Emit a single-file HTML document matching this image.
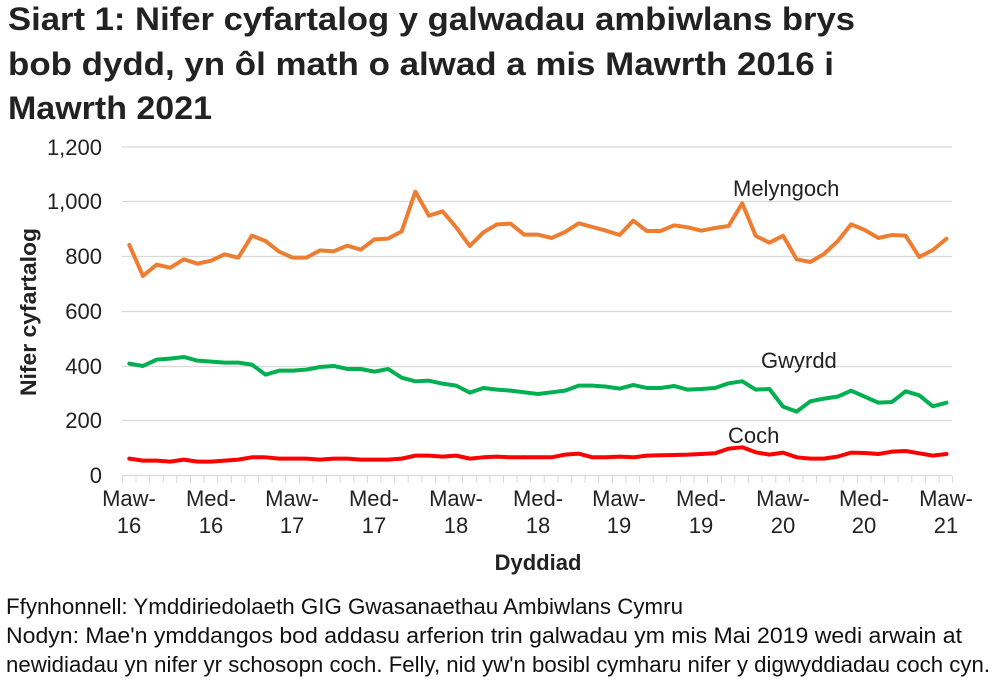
<!DOCTYPE html>
<html><head><meta charset="utf-8"><style>
body{margin:0;background:#fff;width:1002px;height:687px;overflow:hidden;font-family:"Liberation Sans",Arial,sans-serif;}
svg{position:absolute;left:0;top:0}
</style></head><body>
<svg width="1002" height="687" viewBox="0 0 1002 687" font-family="Liberation Sans, Arial, sans-serif">
<g font-size="32" font-weight="bold" fill="#222" lengthAdjust="spacingAndGlyphs">
<text x="8" y="30" textLength="847" lengthAdjust="spacingAndGlyphs">Siart 1: Nifer cyfartalog y galwadau ambiwlans brys</text>
<text x="8" y="75" textLength="826" lengthAdjust="spacingAndGlyphs">bob dydd, yn ôl math o alwad a mis Mawrth 2016 i</text>
<text x="8" y="119" textLength="204" lengthAdjust="spacingAndGlyphs">Mawrth 2021</text>
</g>
<g stroke="#d9d9d9" stroke-width="1.3">
<line x1="122" x2="952" y1="147" y2="147"/>
<line x1="122" x2="952" y1="201.5" y2="201.5"/>
<line x1="122" x2="952" y1="256.5" y2="256.5"/>
<line x1="122" x2="952" y1="311.5" y2="311.5"/>
<line x1="122" x2="952" y1="366.5" y2="366.5"/>
<line x1="122" x2="952" y1="420.5" y2="420.5"/>
<line x1="122" x2="952" y1="475.5" y2="475.5"/>
</g>
<g id="ticks" stroke="#d9d9d9" stroke-width="1"></g>
<g font-size="22" fill="#222" text-anchor="end">
<text x="102" y="155">1,200</text><text x="102" y="209">1,000</text><text x="102" y="264">800</text>
<text x="102" y="319">600</text><text x="102" y="374">400</text><text x="102" y="428">200</text><text x="102" y="483">0</text>
</g>
<g font-size="22" fill="#222" text-anchor="middle">
<text x="129" y="506">Maw-</text><text x="129" y="533">16</text>
<text x="211" y="506">Med-</text><text x="211" y="533">16</text>
<text x="292" y="506">Maw-</text><text x="292" y="533">17</text>
<text x="374" y="506">Med-</text><text x="374" y="533">17</text>
<text x="456" y="506">Maw-</text><text x="456" y="533">18</text>
<text x="538" y="506">Med-</text><text x="538" y="533">18</text>
<text x="619" y="506">Maw-</text><text x="619" y="533">19</text>
<text x="701" y="506">Med-</text><text x="701" y="533">19</text>
<text x="783" y="506">Maw-</text><text x="783" y="533">20</text>
<text x="864" y="506">Med-</text><text x="864" y="533">20</text>
<text x="946" y="506">Maw-</text><text x="946" y="533">21</text>
<text x="538" y="570" font-weight="bold">Dyddiad</text>
<text transform="translate(36,312) rotate(-90)" font-weight="bold" textLength="168" lengthAdjust="spacingAndGlyphs">Nifer cyfartalog</text>
</g>
<g font-size="22" fill="#222">
<text x="733" y="196">Melyngoch</text>
<text x="761" y="368">Gwyrdd</text>
<text x="728" y="443">Coch</text>
</g>
<g fill="none" stroke-width="4" stroke-linejoin="round" stroke-linecap="round">
<g transform="translate(110,170) scale(0.3333)">
<polyline vector-effect="non-scaling-stroke" stroke="#ed7d31" points="58,225 98.9,318 139.7,284 180.6,293 221.4,268 262.3,281 303.2,272 344,253 384.9,263 425.7,197 466.6,213 507.5,245 548.3,263 589.2,263 630,241 670.9,244 711.8,227 752.6,239 793.5,208 834.3,206 875.2,184 916.1,65 956.9,137 997.8,124 1038.6,172 1079.5,228 1120.4,187 1161.2,163 1202.1,161 1242.9,194"/>
<polyline vector-effect="non-scaling-stroke" stroke="#00b050" points="58,581 98.9,588 139.7,569 180.6,566 221.4,561 262.3,572 303.2,575 344,578 384.9,578 425.7,584 466.6,614 507.5,602 548.3,602 589.2,599 630,591 670.9,588 711.8,597 752.6,597 793.5,605 834.3,597 875.2,623 916.1,634 956.9,632 997.8,641 1038.6,647 1079.5,668 1120.4,654 1161.2,659 1202.1,662 1242.9,667"/>
<polyline vector-effect="non-scaling-stroke" stroke="#ff0000" points="58,866 98.9,872 139.7,872 180.6,875 221.4,869 262.3,875 303.2,875 344,872 384.9,869 425.7,862 466.6,862 507.5,866 548.3,866 589.2,866 630,869 670.9,866 711.8,866 752.6,869 793.5,869 834.3,869 875.2,866 916.1,857 956.9,857 997.8,860 1038.6,857 1079.5,866 1120.4,862 1161.2,860 1202.1,862 1242.9,862"/>
</g>
<g transform="translate(520,170) scale(0.3333)">
<polyline vector-effect="non-scaling-stroke" stroke="#ed7d31" points="12.9,194 53.8,194 94.6,204 135.5,186 176.3,160 217.2,171 258.1,182 298.9,195 339.8,152 380.6,183 421.5,183 462.4,166 503.2,172 544.1,182 584.9,174 625.8,168 666.7,100 707.5,198 748.4,218 789.2,197 830.1,268 871,276 911.8,252 952.7,214 993.5,163 1034.4,180 1075.3,204 1116.1,195 1157,197 1197.8,261 1238.7,240 1279.5,206"/>
<polyline vector-effect="non-scaling-stroke" stroke="#00b050" points="12.9,667 53.8,672 94.6,667 135.5,662 176.3,647 217.2,647 258.1,650 298.9,656 339.8,645 380.6,654 421.5,654 462.4,648 503.2,659 544.1,657 584.9,654 625.8,640 666.7,634 707.5,659 748.4,657 789.2,710 830.1,725 871,694 911.8,686 952.7,680 993.5,662 1034.4,680 1075.3,698 1116.1,696 1157,664 1197.8,676 1238.7,709 1279.5,698"/>
<polyline vector-effect="non-scaling-stroke" stroke="#ff0000" points="12.9,862 53.8,862 94.6,862 135.5,854 176.3,851 217.2,862 258.1,862 298.9,860 339.8,862 380.6,857 421.5,856 462.4,855 503.2,854 544.1,852 584.9,850 625.8,836 666.7,832 707.5,847 748.4,854 789.2,848 830.1,862 871,866 911.8,866 952.7,860 993.5,848 1034.4,849 1075.3,852 1116.1,845 1157,843 1197.8,850 1238.7,857 1279.5,852"/>
</g>
</g>
<g font-size="22" fill="#111">
<text x="6" y="614" textLength="677" lengthAdjust="spacingAndGlyphs">Ffynhonnell: Ymddiriedolaeth GIG Gwasanaethau Ambiwlans Cymru</text>
<text x="6" y="643" textLength="956" lengthAdjust="spacingAndGlyphs">Nodyn: Mae'n ymddangos bod addasu arferion trin galwadau ym mis Mai 2019 wedi arwain at</text>
<text x="6" y="672" textLength="984" lengthAdjust="spacingAndGlyphs">newidiadau yn nifer yr schosopn coch. Felly, nid yw'n bosibl cymharu nifer y digwyddiadau coch cyn.</text>
</g>
</svg>
<script>
var g=document.getElementById('ticks'),s='';
for(var i=0;i<=61;i++){var x=122.4+i*13.61;s+='<line x1="'+x+'" x2="'+x+'" y1="476" y2="483"/>';}
g.innerHTML=s;
</script>
</body></html>
